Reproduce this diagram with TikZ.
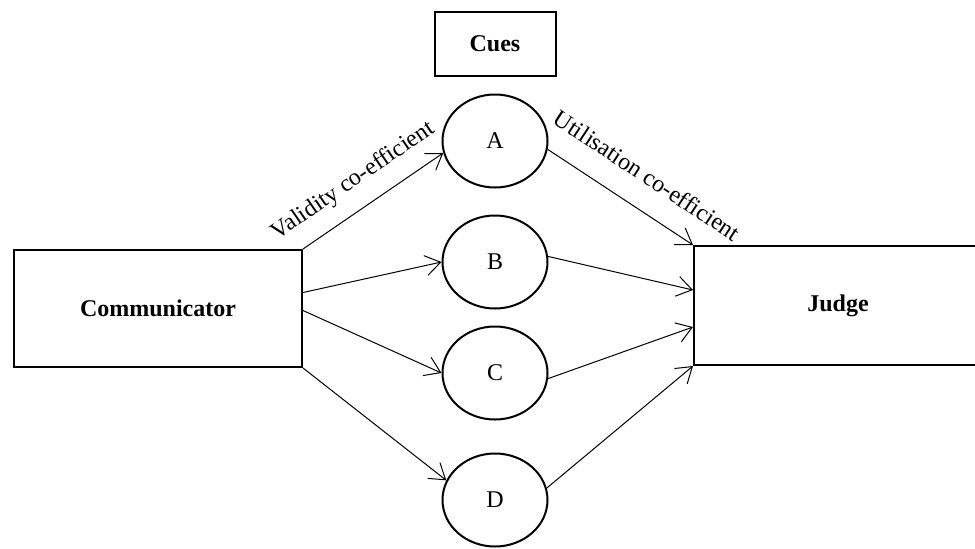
\documentclass[tikz,border=0pt,12pt]{standalone}
\usepackage{fontspec}
\setmainfont{Liberation Serif}
\usepackage{tikz}
\usetikzlibrary{arrows.meta,positioning,shapes.geometric}

\begin{document}
\begin{tikzpicture}[
x=0.5pt, y=-0.5pt,
box/.style={draw, line width=1pt, minimum width=144pt, minimum height=58.5pt, font=\bfseries},
cue/.style={draw, ellipse, line width=1pt, minimum width=52.5pt, minimum height=46.5pt, inner sep=0pt},
arr/.style={-{Straight Barb[length=7.5pt,width=10pt]}, line width=0.5pt},
lbl/.style={sloped, above, yshift=4pt}
]
\clip (0,0) rectangle (975,548);
\node[box] (comm) at (158,308.5) {Communicator};
\node[box, minimum height=59.5pt] (judge) at (838,305.5) {Judge};
\node[cue] (A) at (495,141) {A};
\node[cue, below=13pt of A] (B) {B};
\node[cue, below=8pt of B] (C) {C};
\node[cue, below=16pt of C] (D) {D};
\node[box, minimum width=60.5pt, minimum height=32pt, above=8.5pt of A] (cues) {Cues};

\draw[arr] (comm.north east) -- node[lbl, pos=0.47] {Validity co-efficient} (A.193);
\draw[arr] ([yshift=8pt]comm.east) -- (B.west);
\draw[arr] ([yshift=-1pt]comm.east) -- (C.west);
\draw[arr] (comm.south east) -- (D.158);
\draw[arr] (A.-9) -- node[lbl, pos=0.56, yshift=4pt] {Utilisation co-efficient} (judge.north west);
\draw[arr] (B.6) -- ([yshift=7.75pt]judge.west);
\draw[arr] (C.-6) -- ([yshift=-10.75pt]judge.west);
\draw[arr] (D.13) -- (judge.south west);
\end{tikzpicture}
\end{document}
